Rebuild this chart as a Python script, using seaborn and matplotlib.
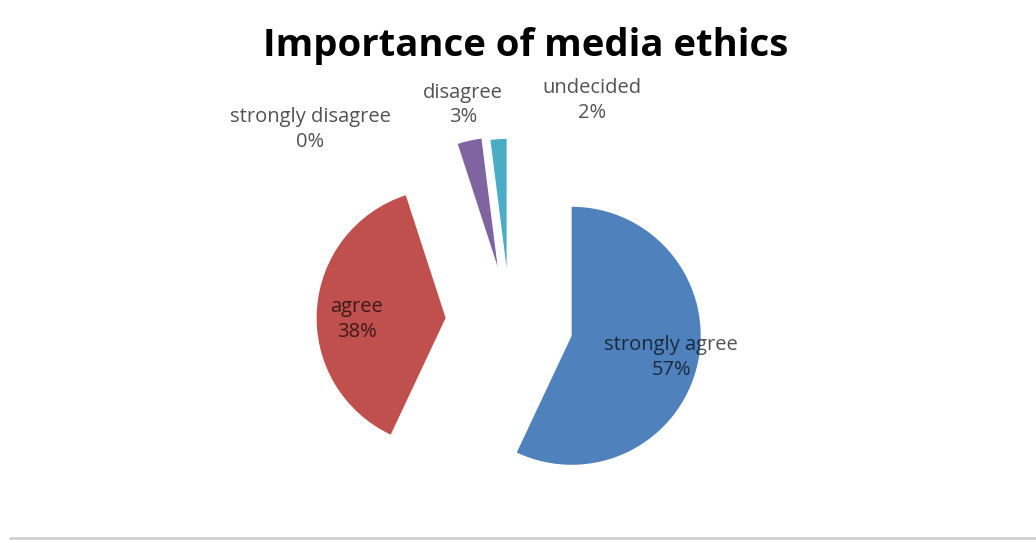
import matplotlib
matplotlib.use("Agg")
import matplotlib.pyplot as plt
import numpy as np
import seaborn as sns
from matplotlib.lines import Line2D

# data
categories = ["strongly agree", "agree", "strongly disagree", "disagree", "undecided"]
shares = [57, 38, 0, 3, 2]
slice_colors = ["#4F81BD", "#C0504D", "#9BBB59", "#8064A2", "#4BACC6"]

# label placement, polar around the pie centre (degrees clockwise from top, radius units)
label_angles = [102.5, 271.0, 314.0, 347.7, 20.4]
label_radii = [1.28, 1.19, 2.15, 1.72, 1.83]
explode = [0.49, 0.50, 0.45, 0.44, 0.42]

sns.set_theme(style="white")
plt.rcParams["font.family"] = ["Open Sans", "DejaVu Sans"]

W, H, R_PX = 1036, 540, 129
CX, CY = 510, 322

fig = plt.figure(figsize=(W / 100, H / 100), dpi=100)
ax = fig.add_axes([0, 0, 1, 1])
ax.pie(
    shares,
    colors=slice_colors,
    startangle=90,
    counterclock=False,
    explode=explode,
    radius=1.0,
    wedgeprops=dict(linewidth=0),
)
ax.set_xlim(-CX / R_PX, (W - CX) / R_PX)
ax.set_ylim(-(H - CY) / R_PX, CY / R_PX)
ax.set_aspect("equal", adjustable="box")
ax.axis("off")

for name, val, ang, rad in zip(categories, shares, label_angles, label_radii):
    t = np.deg2rad(ang)
    ax.text(rad * np.sin(t), rad * np.cos(t), f"{name}\n{val}%",
            ha="center", va="center", fontsize=14.5, color="black", alpha=0.68,
            linespacing=1.3)

fig.text(526 / W, 1 - 46 / H, "Importance of media ethics", ha="center", va="center",
         fontsize=27.5, fontweight="bold", color="black")

fig.add_artist(Line2D([10 / W, 1], [2 / H, 2 / H], color="#d0d0d0", linewidth=2))

fig.savefig("out.png", dpi=100)
